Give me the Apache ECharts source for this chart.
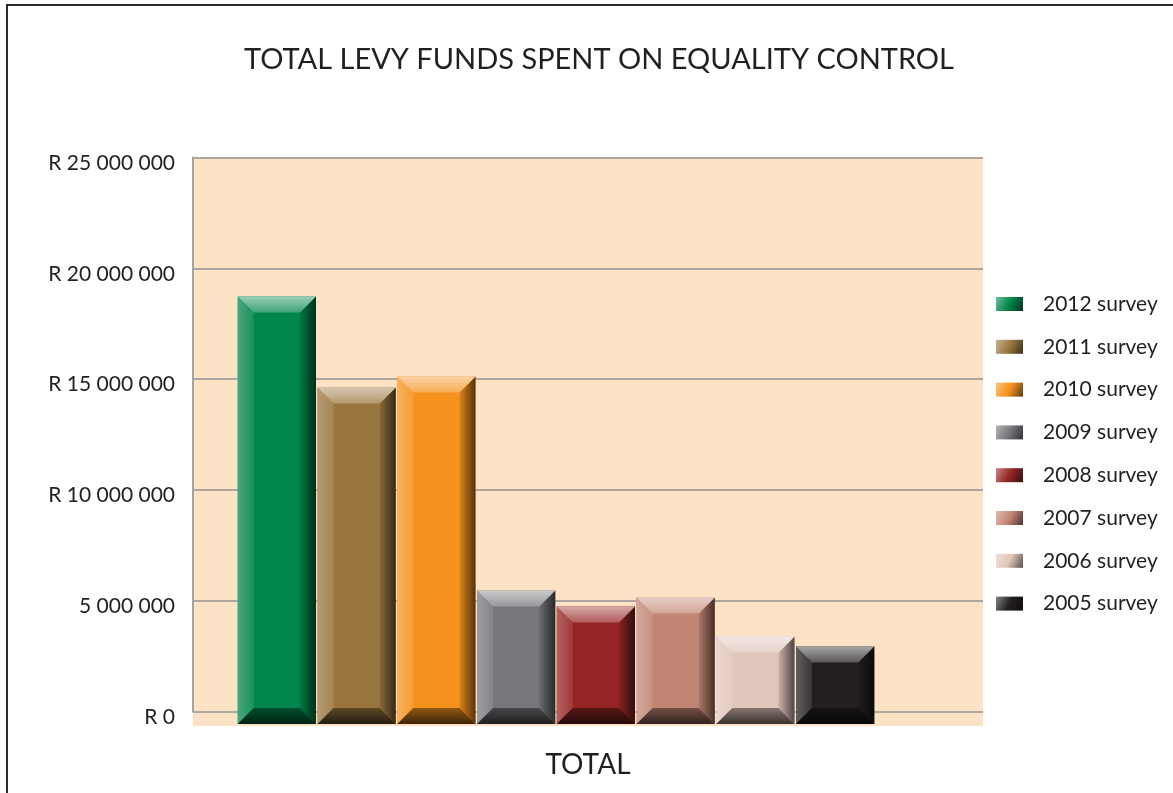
<!DOCTYPE html>
<html>
<head>
<meta charset="utf-8">
<script src="https://cdn.jsdelivr.net/npm/echarts@6.0.0/dist/echarts.min.js"></script>
<style>
	html, body { margin: 0; padding: 0; background: #fff; }
	#chart { width: 1173px; height: 793px; }
</style>
</head>
<body>
<div id="chart"></div>
<script>
	const categories = ['TOTAL']
	const surveys = ['2012 survey', '2011 survey', '2010 survey', '2009 survey', '2008 survey', '2007 survey', '2006 survey', '2005 survey']
	const spend = [18730000, 14620000, 15120000, 5460000, 4740000, 5140000, 3380000, 2930000]
	const yTicks = [0, 5000000, 10000000, 15000000, 20000000, 25000000]
	const yTickLabels = ['R 0', '5 000 000', 'R 10 000 000', 'R 15 000 000', 'R 20 000 000', 'R 25 000 000']
	const colors = ['#00864a', '#9a763f', '#f5921e', '#76777b', '#952524', '#c28574', '#e1c6bb', '#231f20']

	const FONT = 'Lato'
	const INK = '#231f20'
	const PEACH = '#fde2c6'

	// blend a hex colour toward white (to=255) or black (to=0)
	function mix(hex, to, t) {
		const n = parseInt(hex.slice(1), 16)
		const ch = [(n >> 16) & 255, (n >> 8) & 255, n & 255].map(v => Math.round(v + (to - v) * t))
		return 'rgb(' + ch.join(',') + ')'
	}
	const lin = (x2, y2, stops) => new echarts.graphic.LinearGradient(0, 0, x2, y2,
		stops.map(s => ({ offset: s[0], color: s[1] })))

	const slot = 79.75
	const bevel = 16

	function renderBar(params, api) {
		const i = params.seriesIndex
		const c = colors[i]
		const top = api.coord([api.value(0), api.value(1)])
		const zero = api.coord([api.value(0), 0])
		const x = top[0] - 32 + (i - 4) * slot + 0.75
		const w = slot - 1.5
		const y = top[1]
		const yb = zero[1] + 12.5
		const b = bevel
		return {
			type: 'group',
			children: [
				{ type: 'rect', shape: { x: x, y: y, width: w, height: yb - y }, style: { fill: c } },
				{ type: 'polygon', shape: { points: [[x, y], [x + b, y + b], [x + b, yb - b], [x, yb]] },
					style: { fill: lin(1, 0, [[0, mix(c, 255, 0.28)], [1, mix(c, 255, 0.1)]]) } },
				{ type: 'polygon', shape: { points: [[x + w, y], [x + w, yb], [x + w - b, yb - b], [x + w - b, y + b]] },
					style: { fill: lin(1, 0, [[0, mix(c, 0, 0.1)], [1, mix(c, 0, 0.65)]]) } },
				{ type: 'polygon', shape: { points: [[x, y], [x + w, y], [x + w - b, y + b], [x + b, y + b]] },
					style: { fill: lin(0, 1, [[0, mix(c, 255, 0.6)], [1, mix(c, 255, 0.25)]]) } },
				{ type: 'polygon', shape: { points: [[x, yb], [x + b, yb - b], [x + w - b, yb - b], [x + w, yb]] },
					style: { fill: lin(0, 1, [[0, mix(c, 0, 0.4)], [1, mix(c, 0, 0.75)]]) } }
			]
		}
	}

	const series = surveys.map((name, i) => ({
		name: name,
		type: 'custom',
		z: 3,
		renderItem: renderBar,
		itemStyle: {
			color: lin(1, 1, [[0, mix(colors[i], 255, 0.45)], [0.5, colors[i]], [1, mix(colors[i], 0, 0.6)]])
		},
		data: [[0, spend[i]]]
	}))

	const myChart = echarts.init(document.getElementById('chart'))
	myChart.setOption({
		animation: false,
		backgroundColor: '#fff',
		textStyle: { fontFamily: FONT },
		title: {
			text: 'TOTAL LEVY FUNDS SPENT ON EQUALITY CONTROL',
			left: 594,
			textAlign: 'center',
			top: 40,
			textStyle: { fontFamily: FONT, fontSize: 29, fontWeight: 'normal', color: INK }
		},
		grid: {
			left: 193,
			right: 190,
			top: 157.5,
			bottom: 81.5,
			show: true,
			borderWidth: 0,
			backgroundColor: PEACH
		},
		legend: {
			orient: 'vertical',
			left: 991,
			top: 288,
			icon: 'rect',
			itemWidth: 27,
			itemHeight: 14,
			itemGap: 20.8,
			data: surveys,
			textStyle: { fontFamily: FONT, fontSize: 21, color: INK, lineHeight: 22, padding: [0, 0, 0, 15] }
		},
		xAxis: {
			type: 'category',
			data: categories,
			axisLine: { show: false },
			axisTick: { show: false },
			axisLabel: { fontFamily: FONT, fontSize: 28, color: INK, margin: 39 }
		},
		yAxis: {
			type: 'value',
			min: 0,
			max: 25000000,
			interval: 5000000,
			axisLine: { show: true, lineStyle: { color: '#a9a39d', width: 2 } },
			axisTick: { show: false },
			splitLine: { lineStyle: { color: '#aea79f', width: 2 } },
			axisLabel: {
				fontFamily: FONT, fontSize: 21, color: INK, margin: 18,
				verticalAlign: 'top', lineHeight: 11,
				formatter: v => yTickLabels[yTicks.indexOf(v)]
			}
		},
		graphic: [
			{ type: 'rect', z: 0, shape: { x: 193, y: 711.5, width: 790, height: 14.5 }, style: { fill: PEACH } },
			{ type: 'rect', z: 10, shape: { x: 7, y: 5, width: 1300, height: 1000 }, style: { fill: 'none', stroke: '#2b2b2b', lineWidth: 2 } }
		],
		series: series
	})
</script>
</body>
</html>
